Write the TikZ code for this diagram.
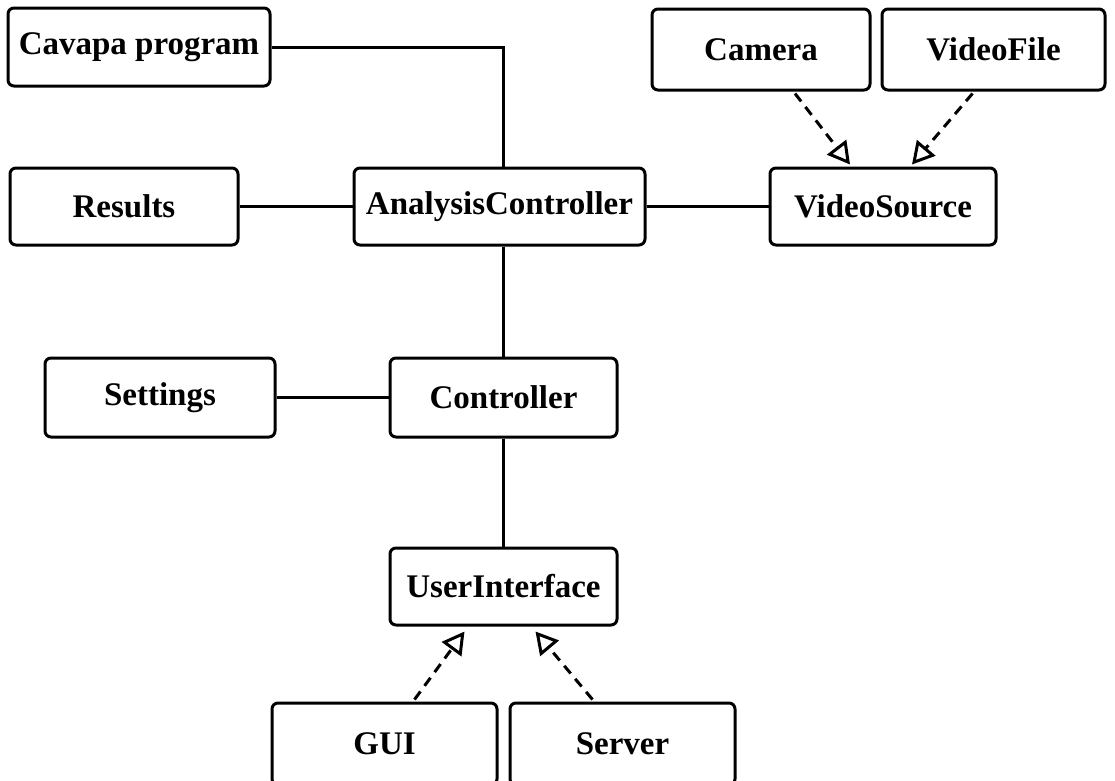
\documentclass[tikz,border=0pt]{standalone}
\usepackage{fontspec}
\setmainfont{Liberation Serif}
\usetikzlibrary{arrows.meta,calc}
\begin{document}
\begin{tikzpicture}[x=1pt,y=-1pt,
  cls/.style={draw, line width=3pt, rounded corners=6pt, fill=white,
    inner sep=0pt, font=\fontsize{33}{40}\selectfont\bfseries},
  assoc/.style={line width=3pt},
  real/.style={line width=3pt, dash pattern=on 10pt off 7pt,
    -{Triangle[open, length=22pt, width=24pt, fill=white]}}]
\useasboundingbox (0,0) rectangle (1115,780);
\fill[white] (0,0) rectangle (1115,780);
\node[cls, minimum width=262pt, minimum height=78pt] (cav) at (139,47) {Cavapa program};
\node[cls, minimum width=228pt, minimum height=77pt] (res) at (124,206.5) {Results};
\node[cls, minimum width=291pt, minimum height=77pt] (ac) at (499.5,206.5) {AnalysisController};
\node[cls, minimum width=226pt, minimum height=77pt] (vs) at (883,206.5) {VideoSource};
\node[cls, minimum width=218pt, minimum height=81pt] (cam) at (761,49.5) {Camera};
\node[cls, minimum width=223pt, minimum height=81pt] (vf) at (993.5,49.5) {VideoFile};
\node[cls, minimum width=230pt, minimum height=79pt] (set) at (160,397.5) {Settings};
\node[cls, minimum width=227pt, minimum height=79pt] (ctl) at (503.5,397.5) {Controller};
\node[cls, minimum width=227pt, minimum height=77pt] (ui) at (503.5,586.5) {UserInterface};
\node[cls, minimum width=225pt, minimum height=82pt] (gui) at (384.5,744) {GUI};
\node[cls, minimum width=225pt, minimum height=82pt] (srv) at (622.5,744) {Server};
% associations
\draw[assoc] (cav.east) -| (ctl.north |- ac.north);
\draw[assoc] (res.east) -- (ac.west);
\draw[assoc] (ac.east) -- (vs.west);
\draw[assoc] (ctl.north |- ac.south) -- (ctl.north);
\draw[assoc] (set.east) -- (ctl.west);
\draw[assoc] (ctl.south) -- (ui.north);
% realizations
\draw[real] ($(cam.south)+(34,2)$) -- ($(vs.north)+(-33,-2)$);
\draw[real] ($(vf.south)+(-21,2)$) -- ($(vs.north)+(29,-2)$);
\draw[real] ($(gui.north)+(30,-2)$) -- ($(ui.south)+(-39,5)$);
\draw[real] ($(srv.north)+(-30,-2)$) -- ($(ui.south)+(32,5)$);
\end{tikzpicture}
\end{document}
